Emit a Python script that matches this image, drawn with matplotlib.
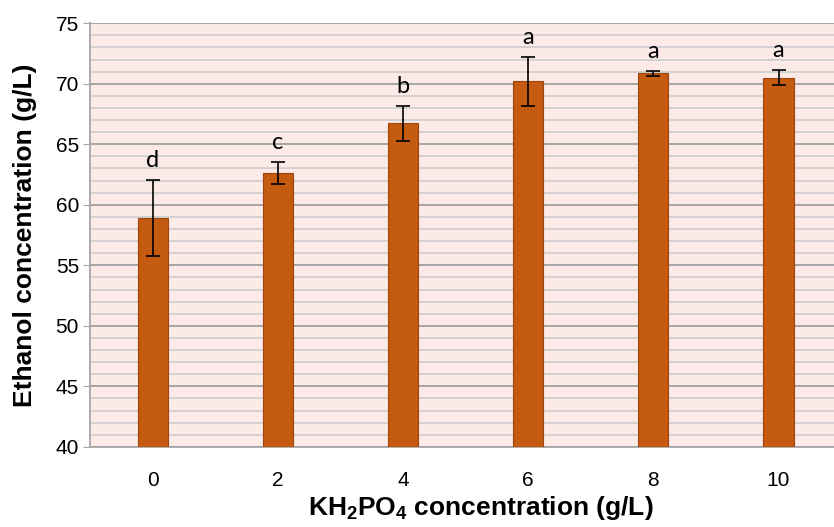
import numpy as np
import matplotlib
matplotlib.use('Agg')
import matplotlib.pyplot as plt
from matplotlib.ticker import MultipleLocator

# data
kh2po4 = ['0', '2', '4', '6', '8', '10']
ethanol = [58.9, 62.6, 66.75, 70.2, 70.85, 70.5]
ethanol_err = [3.15, 0.9, 1.45, 2.0, 0.2, 0.6]
letters = ['d', 'c', 'b', 'a', 'a', 'a']

plt.rcParams['font.family'] = ['Liberation Sans', 'DejaVu Sans']
plt.rcParams['mathtext.fontset'] = 'custom'
plt.rcParams['mathtext.rm'] = 'Liberation Sans:bold'
plt.rcParams['mathtext.default'] = 'rm'

fig = plt.figure(figsize=(8.34, 5.27), dpi=100)
# plot area runs a little past the right edge, as in the source
ax = fig.add_axes([0.108, 0.152, 0.9005, 0.804])
ax.set_facecolor('#fbeae5')

x = np.arange(len(kh2po4))
ax.bar(x, ethanol, width=0.24, bottom=0, color='#c55a11', edgecolor='#9c4710',
       linewidth=0.8, zorder=3)
ax.errorbar(x, ethanol, yerr=ethanol_err, fmt='none', ecolor='black',
            elinewidth=1.2, capsize=5, capthick=1.2, zorder=4)

for xi, v, e, s in zip(x, ethanol, ethanol_err, letters):
    ax.annotate(s, (xi, v + e), xytext=(0, 14), textcoords='offset points',
                ha='center', va='center', fontsize=17, family='Lato')

ax.set_ylim(40, 75)
ax.set_xlim(-0.5, 5.5)
ax.yaxis.set_major_locator(MultipleLocator(5))
ax.yaxis.set_minor_locator(MultipleLocator(1))
ax.grid(which='minor', axis='y', color='#cfcfcf', linewidth=1.3, zorder=0)
ax.grid(which='major', axis='y', color='#a6a6a6', linewidth=1.4, zorder=1)

ax.set_xticks(x)
ax.set_xticklabels(kh2po4)
ax.tick_params(axis='x', length=0, labelsize=15, pad=17)
ax.tick_params(axis='y', which='major', length=5, color='#a6a6a6', labelsize=15, pad=3)
ax.tick_params(axis='y', which='minor', length=0)

for side in ['top', 'right']:
    ax.spines[side].set_visible(False)
ax.spines['left'].set_color('#a6a6a6')
ax.spines['left'].set_linewidth(1.3)
ax.spines['bottom'].set_color('#a6a6a6')
ax.spines['bottom'].set_linewidth(1.3)

ax.set_ylabel('Ethanol concentration (g/L)', fontsize=19, fontweight='bold')
ax.yaxis.set_label_coords(-0.071, 0.5)
ax.set_xlabel(r'KH$_2$PO$_4$ concentration (g/L)', fontsize=19, fontweight='bold')
ax.xaxis.set_label_coords(0.52, -0.11)

fig.savefig('out.png', dpi=100)
